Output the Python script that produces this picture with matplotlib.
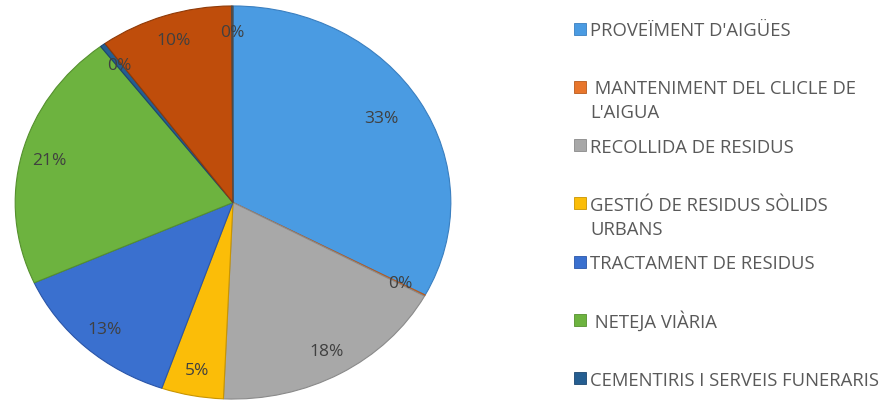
import matplotlib
matplotlib.use("Agg")
import matplotlib.pyplot as plt
from matplotlib.patches import Rectangle

plt.rcParams['font.family'] = ['Open Sans', 'DejaVu Sans']

# slices, clockwise from 12 o'clock (percent of total)
labels = ["PROVEÏMENT D'AIGÜES",
          " MANTENIMENT DEL CLICLE DE\nL'AIGUA",
          "RECOLLIDA DE RESIDUS",
          "GESTIÓ DE RESIDUS SÒLIDS\nURBANS",
          "TRACTAMENT DE RESIDUS",
          " NETEJA VIÀRIA",
          "CEMENTIRIS I SERVEIS FUNERARIS",
          "ALTRES",
          "ALTRES 2"]
values = [32.8, 0.1, 17.8, 4.6, 13.0, 21.3, 0.4, 9.9, 0.1]
colors = ['#4a9be2', '#e8762c', '#a8a8a8', '#fbbd08', '#3a70cf',
          '#6db33f', '#255e91', '#bf4d0b', '#636363']
edge = ['#3a7fc0', '#b85a1c', '#8a8a8a', '#c99500', '#2a55a8',
        '#55902e', '#1b4670', '#8f3a08', '#4a4a4a']
legend_count = 7

fig = plt.figure(figsize=(8.9, 4.06), dpi=100)
ax = fig.add_axes([(233 - 220) / 890, 4 / 406, 440 / 890, 397 / 406])

wedges, texts, autotexts = ax.pie(
    values, colors=colors, startangle=90, counterclock=False,
    autopct='%1.0f%%', pctdistance=0.87,
    wedgeprops=dict(linewidth=0.8),
    textprops=dict(color='#404040', fontsize=12.5))
for w, e in zip(wedges, edge):
    w.set_edgecolor(e)
autotexts[0].set_position((0.68, 0.43))
ax.set_aspect('auto')
ax.set_xlim(-1.01, 1.01)
ax.set_ylim(-1.01, 1.01)
ax.axis('off')

# legend on the right (one text per line, 24 px apart)
for i in range(legend_count):
    yc = 29.5 + 58.3 * i
    fig.patches.append(Rectangle((574 / 890, (406 - yc - 6) / 406), 12 / 890, 12 / 406,
                                 transform=fig.transFigure, facecolor=colors[i],
                                 edgecolor=edge[i], linewidth=0.6))
    for j, line in enumerate(labels[i].split('\n')):
        fig.text(590 / 890, (406 - yc - 6.5 - 24 * j) / 406, line, fontsize=13.3,
                 color='#595959', va='baseline', ha='left')

fig.savefig("out.png", dpi=100)
